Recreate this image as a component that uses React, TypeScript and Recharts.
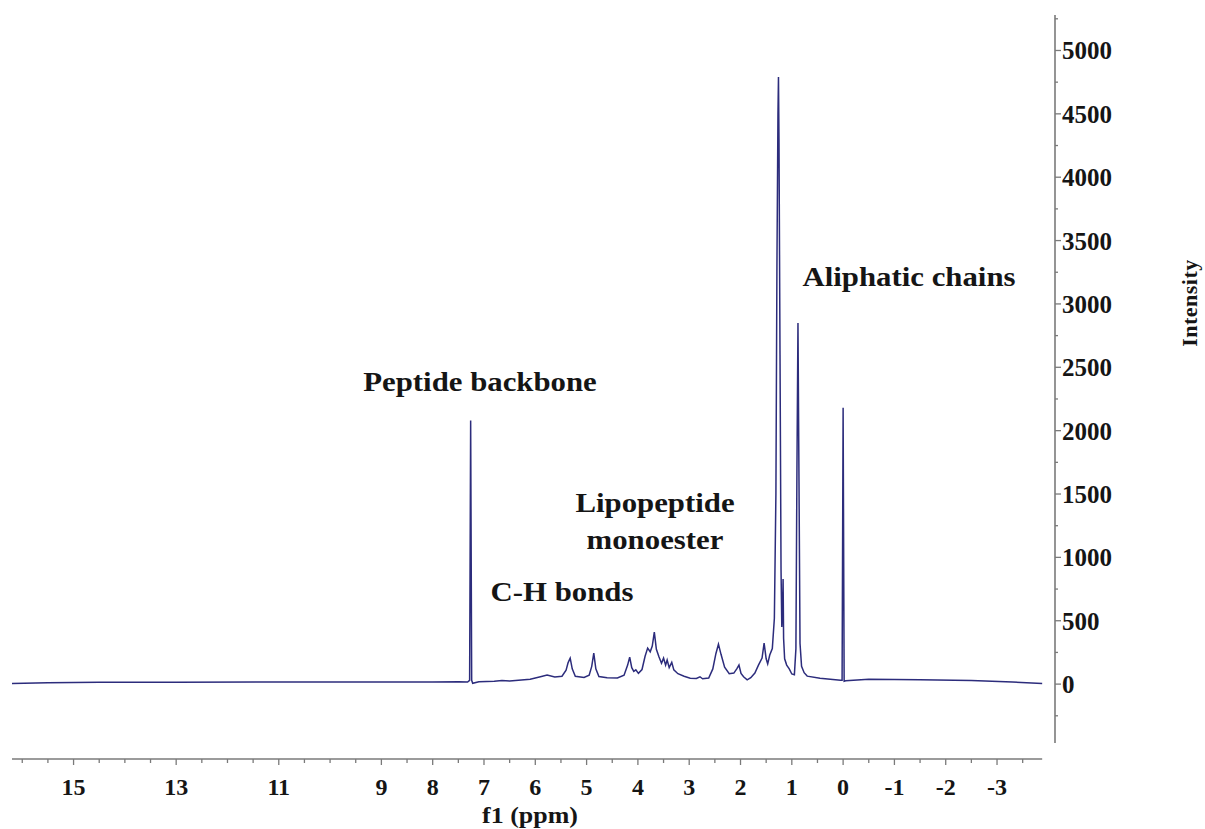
import React from 'react';
import { LineChart, Line, XAxis, YAxis, ReferenceLine } from 'recharts';

// Chemical shift (ppm) and intensity
const ppm = [
  16.2, 15.5, 14.5, 13, 11, 9.5, 8, 7.5, 7.32, 7.28, 7.26, 7.24, 7.22, 7.1,
  6.8, 6.65, 6.5, 6.1, 5.9, 5.77, 5.62, 5.48, 5.4, 5.36, 5.32, 5.28, 5.22,
  5.05, 4.95, 4.9, 4.86, 4.82, 4.76, 4.6, 4.4, 4.27, 4.2, 4.16, 4.12, 4.08,
  4.04, 3.99, 3.92, 3.86, 3.81, 3.76, 3.72, 3.68, 3.64, 3.59, 3.54, 3.5,
  3.46, 3.43, 3.39, 3.34, 3.3, 3.22, 3.1, 2.98, 2.86, 2.79, 2.74, 2.62,
  2.54, 2.48, 2.43, 2.38, 2.31, 2.22, 2.13, 2.07, 2.03, 1.99, 1.94, 1.87,
  1.8, 1.72, 1.65, 1.58, 1.54, 1.5, 1.47, 1.43, 1.38, 1.34, 1.31, 1.29,
  1.27, 1.26, 1.25, 1.23, 1.21, 1.195, 1.18, 1.17, 1.16, 1.14, 1.1, 1.05,
  1.0, 0.95, 0.92, 0.9, 0.88, 0.86, 0.84, 0.81, 0.76, 0.7, 0.45, 0.2, 0.05,
  0.02, 0.0, -0.02, -0.05, -0.5, -1.5, -2.5, -3.3, -3.88,
];
const intensity = [
  5, 10, 14, 15, 16, 16, 17, 18, 16, 30, 2080, 30, 6, 18,
  22, 28, 24, 38, 58, 72, 56, 62, 110, 170, 205, 120, 62,
  52, 70, 140, 245, 120, 60, 50, 48, 70, 150, 213, 130, 100,
  112, 85, 115, 220, 284, 255, 300, 410, 275, 215, 165, 205,
  150, 190, 130, 172, 112, 82, 62, 47, 45, 58, 42, 48,
  120, 240, 315, 235, 134, 82, 87, 122, 150, 85, 58, 34,
  50, 87, 150, 205, 323, 200, 160, 229, 280, 520, 1500, 3300,
  4500, 4790, 4300, 2600, 900, 450, 600, 830, 360, 200, 150, 120,
  80, 74, 280, 1700, 2850, 1600, 320, 140, 90, 63, 47, 36, 30,
  30, 2180, 22, 26, 38, 35, 28, 16, 4,
];

// Axis ticks
const xTickValues = [
  16, 15.5, 15, 14.5, 14, 13.5, 13, 12.5, 12, 11.5, 11, 10.5, 10, 9.5, 9,
  8.5, 8, 7.5, 7, 6.5, 6, 5.5, 5, 4.5, 4, 3.5, 3, 2.5, 2, 1.5, 1, 0.5, 0,
  -0.5, -1, -1.5, -2, -2.5, -3, -3.5,
];
const xTickLabels = ['15', '13', '11', '9', '8', '7', '6', '5', '4', '3', '2', '1', '0', '-1', '-2', '-3'];
const yTickValues = [
  -250, 0, 250, 500, 750, 1000, 1250, 1500, 1750, 2000, 2250, 2500, 2750,
  3000, 3250, 3500, 3750, 4000, 4250, 4500, 4750, 5000, 5250,
];
const yTickLabels = ['0', '500', '1000', '1500', '2000', '2500', '3000', '3500', '4000', '4500', '5000'];

const xDomain: [number, number] = [-4.13, 16.2];
const yDomain: [number, number] = [-591, 5280];
const xAxisSpan = [16.2, -3.88];
const yAxisSpan = [-465, 5280];

const data = ppm.map((p, i) => ({ ppm: p, intensity: intensity[i] }));

const FONT = '"Liberation Serif", "Times New Roman", serif';
const AXIS_GRAY = '#7a7a7a';

const XTick = (props: any) => {
  const { x, y, payload } = props;
  const label = String(payload.value);
  const labeled = xTickLabels.includes(label);
  return (
    <g>
      <line x1={x} y1={y} x2={x} y2={y + (labeled ? 6 : 4)} stroke={AXIS_GRAY} strokeWidth={1.3} />
      {labeled && (
        <text x={x} y={y + 36} textAnchor="middle" fontFamily={FONT} fontWeight="bold" fontSize={24} fill="#151515">
          {label}
        </text>
      )}
    </g>
  );
};

const YTick = (props: any) => {
  const { x, y, payload } = props;
  const label = String(payload.value);
  const labeled = yTickLabels.includes(label);
  return (
    <g>
      <line x1={x} y1={y} x2={x + (labeled ? 6 : 3)} y2={y} stroke={AXIS_GRAY} strokeWidth={1.3} />
      {labeled && (
        <text x={x + 7} y={y + 9} textAnchor="start" fontFamily={FONT} fontWeight="bold" fontSize={25} fill="#151515">
          {label}
        </text>
      )}
    </g>
  );
};

const annStyle: React.CSSProperties = {
  position: 'absolute',
  fontFamily: FONT,
  fontWeight: 'bold',
  fontSize: 28,
  color: '#151515',
  whiteSpace: 'nowrap',
  lineHeight: '37px',
  textAlign: 'center',
};

const ann = (cx: number, cy: number, extra = ''): React.CSSProperties => ({
  ...annStyle,
  left: cx,
  top: cy,
  transform: `translate(-50%, -50%) ${extra}`,
});

export default function App() {
  return (
    <div style={{ position: 'absolute', left: 0, top: 0, width: 1205, height: 829, background: '#fff', overflow: 'hidden' }}>
      <LineChart
        width={1205}
        height={829}
        data={data}
        margin={{ top: 15, right: 0, bottom: 0, left: 12 }}
      >
        <XAxis
          dataKey="ppm"
          type="number"
          domain={xDomain}
          reversed
          allowDataOverflow
          ticks={xTickValues}
          interval={0}
          tick={<XTick />}
          tickLine={false}
          axisLine={false}
          tickSize={0}
          tickMargin={0}
          height={70}
        />
        <YAxis
          orientation="right"
          type="number"
          domain={yDomain}
          allowDataOverflow
          ticks={yTickValues}
          interval={0}
          tick={<YTick />}
          tickLine={false}
          axisLine={false}
          tickSize={0}
          tickMargin={0}
          width={150}
        />
        <ReferenceLine
          segment={[{ x: xAxisSpan[0], y: yDomain[0] }, { x: xAxisSpan[1], y: yDomain[0] }]}
          stroke={AXIS_GRAY}
          strokeWidth={1.6}
          ifOverflow="visible"
        />
        <ReferenceLine
          segment={[{ x: xDomain[0], y: yAxisSpan[0] }, { x: xDomain[0], y: yAxisSpan[1] }]}
          stroke={AXIS_GRAY}
          strokeWidth={1.6}
          ifOverflow="visible"
        />
        <Line
          type="linear"
          dataKey="intensity"
          stroke="#2c2c7c"
          strokeWidth={1.5}
          dot={false}
          isAnimationActive={false}
        />
      </LineChart>
      <div style={ann(480, 381, 'scaleX(1.1)')}>Peptide backbone</div>
      <div style={ann(655, 521, 'scaleX(1.1)')}>Lipopeptide<br />monoester</div>
      <div style={ann(562, 591, 'scaleX(1.1)')}>C-H bonds</div>
      <div style={ann(909, 276, 'scaleX(1.1)')}>Aliphatic chains</div>
      <div style={{ ...ann(530, 815, 'scaleX(1.08)'), fontSize: 24, lineHeight: '24px' }}>f1 (ppm)</div>
      <div style={{ ...ann(1189, 303, 'rotate(-90deg)'), fontSize: 22, letterSpacing: 0.5 }}>Intensity</div>
    </div>
  );
}
